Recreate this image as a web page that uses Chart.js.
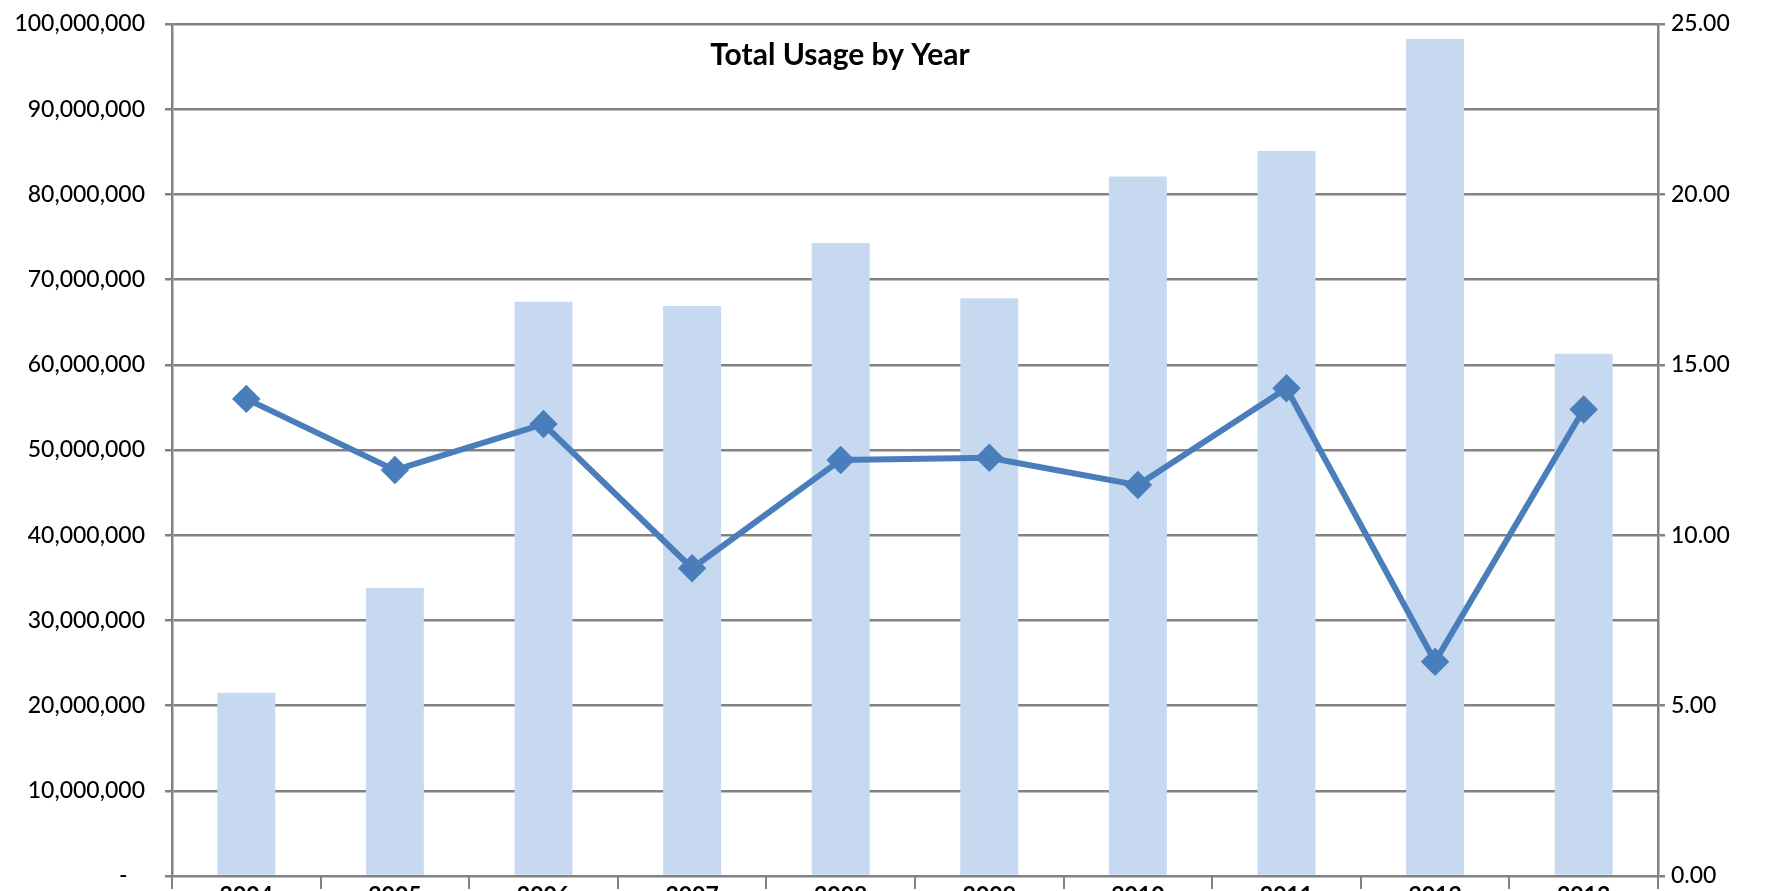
<!DOCTYPE html>
<html>
<head>
<meta charset="utf-8">
<title>Total Usage by Year</title>
<script src="https://cdn.jsdelivr.net/npm/chart.js@4/dist/chart.umd.min.js"></script>
<style>
  html, body { margin: 0; padding: 0; background: #fff; overflow: hidden; }
  #wrap { width: 1765px; height: 930px; }
</style>
</head>
<body>
<div id="wrap"><canvas id="chartCanvas" width="1765" height="930"></canvas></div>
<script>
// Total usage per year (bars, left axis) and the ratio line (right axis)
const years = ['2004', '2005', '2006', '2007', '2008', '2009', '2010', '2011', '2012', '2013'];
const usage = [21500000, 33800000, 67400000, 66900000, 74300000, 67800000, 82100000, 85100000, 98250000, 61300000];
const ratio = [14.0, 11.91, 13.26, 9.03, 12.21, 12.27, 11.47, 14.31, 6.29, 13.69];
const leftTicks = { min: 0, max: 100000000, step: 10000000 };
const rightTicks = { min: 0, max: 25, step: 5 };

const gridGrey = '#828282';
const textColor = '#000000';
const fontFamily = 'Lato, "Liberation Sans", sans-serif';

const titlePlugin = {
  id: 'insideTitle',
  afterDatasetsDraw(chart) {
    const { ctx } = chart;
    ctx.save();
    ctx.font = `bold 30px ${fontFamily}`;
    ctx.fillStyle = textColor;
    ctx.textAlign = 'center';
    ctx.textBaseline = 'middle';
    ctx.fillText('Total Usage by Year', 840, 55);
    ctx.restore();
  }
};

// fixed axis width, and no extra top padding from the tick labels
function pinVertical(width) {
  return (scale) => {
    scale.width = width;
    scale.paddingTop = 0;
    scale.paddingBottom = 0;
  };
}

const ctx = document.getElementById('chartCanvas').getContext('2d');
new Chart(ctx, {
  data: {
    labels: years,
    datasets: [
      {
        type: 'line',
        label: 'Ratio',
        data: ratio,
        yAxisID: 'y1',
        order: 0,
        borderColor: '#4a7ebb',
        backgroundColor: '#4a7ebb',
        borderWidth: 6,
        pointStyle: 'rectRot',
        pointRadius: 10,
        pointHoverRadius: 10,
        tension: 0
      },
      {
        type: 'bar',
        label: 'Total Usage',
        data: usage,
        yAxisID: 'y',
        order: 1,
        backgroundColor: '#c6d9f0',
        barPercentage: 0.39,
        categoryPercentage: 1
      }
    ]
  },
  options: {
    responsive: false,
    animation: false,
    layout: { padding: { top: 24, right: 0, left: 0, bottom: 0 } },
    plugins: { legend: { display: false }, tooltip: { enabled: false } },
    scales: {
      x: {
        offset: true,
        grid: { offset: true, drawOnChartArea: false, color: gridGrey, lineWidth: 2, tickLength: 13 },
        border: { color: gridGrey, width: 2 },
        ticks: { color: textColor, font: { family: fontFamily, size: 23, weight: 'bold' }, padding: -7, maxRotation: 0 },
        afterFit(scale) { scale.height = 54; }
      },
      y: {
        position: 'left',
        min: leftTicks.min,
        max: leftTicks.max,
        grid: { color: gridGrey, lineWidth: 2.5, tickLength: 7 },
        border: { color: gridGrey, width: 2.5 },
        ticks: {
          stepSize: leftTicks.step,
          color: textColor,
          font: { family: fontFamily, size: 23, weight: 500 },
          padding: 20,
          callback: (v) => (v === 0 ? '-   ' : v.toLocaleString('en-US'))
        },
        afterFit: pinVertical(172)
      },
      y1: {
        position: 'right',
        min: rightTicks.min,
        max: rightTicks.max,
        grid: { drawOnChartArea: false, color: gridGrey, lineWidth: 2.5, tickLength: 7 },
        border: { color: gridGrey, width: 2.5 },
        ticks: {
          stepSize: rightTicks.step,
          color: textColor,
          font: { family: fontFamily, size: 23, weight: 500 },
          padding: 6,
          callback: (v) => v.toFixed(2)
        },
        afterFit: pinVertical(107)
      }
    }
  },
  plugins: [titlePlugin]
});
</script>
</body>
</html>
